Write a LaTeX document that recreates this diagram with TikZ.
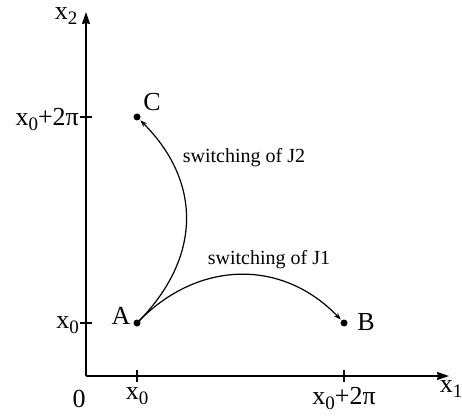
\documentclass[tikz,border=0pt]{standalone}
\usepackage{fontspec}
\setmainfont{Liberation Serif}
\usepackage{tikz}
\usetikzlibrary{arrows.meta}

\newcommand{\lowsub}[1]{\raisebox{-5pt}{\fontsize{19}{19}\selectfont #1}}

\begin{document}
\begin{tikzpicture}[x=1pt, y=1pt, font=\fontsize{26}{28}\selectfont,
    axis/.style={line width=1.6pt, -{Stealth[length=12pt, width=8pt, inset=1pt]}},
    tick/.style={line width=1.4pt},
    dot/.style={circle, fill, inner sep=0pt, minimum size=7pt},
    path/.style={line width=1.2pt, -{Stealth[length=7pt, width=5pt]}, shorten >=1pt},
    note/.style={font=\fontsize{20}{22}\selectfont}]
  \useasboundingbox (0,0) rectangle (462,415);
  % axes
  \coordinate (O) at (86,39);
  \coordinate (xend) at (449,39);
  \coordinate (yend) at (86,403);
  \draw[axis] (O) -- (xend);
  \draw[axis] (O) -- (yend);
  \node (xlab) at (451,26) {x\lowsub{1}};
  \node (ylab) at (66,399) {x\lowsub{2}};
  \node (zero) at (79,16) {0};
  % ticks on the x1 axis
  \foreach \x/\t in {137/x\lowsub{0}, 344/x\lowsub{0}+2π} {
    \draw[tick] (\x,33) -- (\x,45);
    \node[anchor=north] at (\x,31) {\t};}
  % ticks on the x2 axis
  \foreach \y/\t in {92/x\lowsub{0}, 298/x\lowsub{0}+2π} {
    \draw[tick] (80,\y) -- (92,\y);
    \node[anchor=east, inner sep=1pt] at (80,\y-2) {\t};}
  % points
  \node[dot] (A) at (137,92) {};
  \node[dot] (B) at (344,92) {};
  \node[dot] (C) at (137,298) {};
  \node (labA) at (121,99) {A};
  \node (labB) at (366,93) {B};
  \node (labC) at (152,313) {C};
  % switchings
  \draw[path] (A.center) .. controls (198,156) and (283,156) .. (B);
  \draw[path] (A.center) .. controls (202,157) and (202,233) .. (C);
  \node[note] (s1) at (269,155) {switching of J1};
  \node[note] (s2) at (244,257) {switching of J2};
\end{tikzpicture}
\end{document}
